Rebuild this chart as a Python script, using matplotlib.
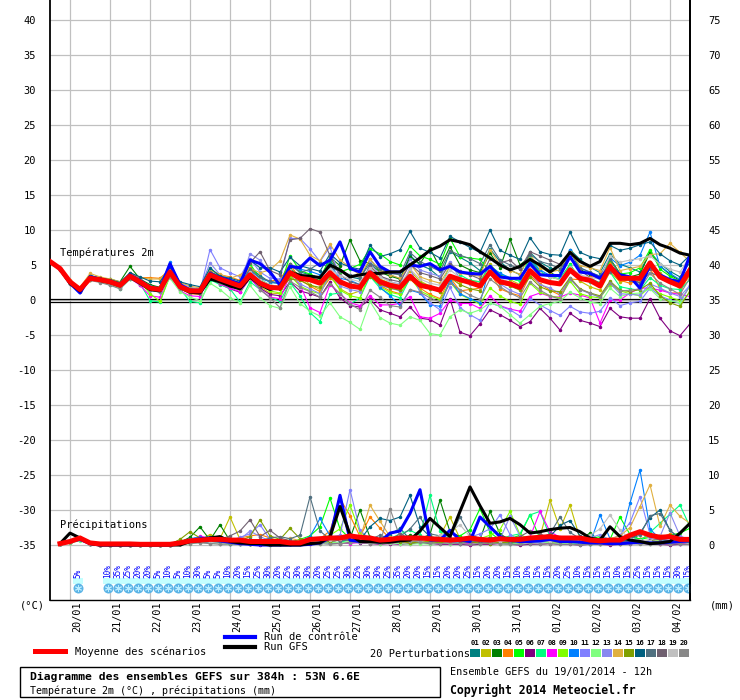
import numpy as np
import matplotlib.pyplot as plt
from matplotlib.patches import Rectangle

plt.rcParams['font.family'] = ['DejaVu Sans Mono']
plt.rcParams['axes.unicode_minus'] = False

# 6-hourly steps from 19/01 12h to 04/02 12h
steps = np.arange(65)
dates = ["20/01", "21/01", "22/01", "23/01", "24/01", "25/01", "26/01", "27/01",
         "28/01", "29/01", "30/01", "31/01", "01/02", "02/02", "03/02", "04/02"]

# temperature 2m (C)
mean_t = [5.5,
          4.5, 2.6, 1.5, 3.1, 2.9, 2.6, 2.1, 3.4, 2.6, 1.7, 1.5, 4.0, 1.9, 1.3, 1.3, 3.6,
          3.0, 2.5, 2.0, 3.6, 2.4, 1.8, 1.7, 3.9, 3.1, 2.9, 2.4, 3.9, 2.6, 2.0, 1.8, 3.9,
          2.6, 2.1, 1.8, 3.4, 2.1, 1.8, 1.4, 3.4, 2.9, 2.5, 2.0, 4.0, 2.6, 2.3, 1.8, 4.2,
          2.9, 2.5, 2.3, 4.3, 3.1, 2.8, 2.0, 4.8, 3.1, 3.1, 3.1, 5.3, 3.3, 2.6, 2.0, 4.3]
ctrl_t = [5.5,
          4.5, 2.4, 1.0, 3.3, 3.0, 2.6, 2.2, 3.6, 2.8, 1.8, 1.6, 5.2, 2.2, 1.4, 1.2, 3.8,
          3.2, 2.8, 2.3, 5.7, 5.2, 4.0, 2.1, 4.8, 4.6, 6.0, 4.9, 5.7, 8.3, 4.5, 4.0, 6.9,
          4.8, 4.0, 4.0, 5.0, 4.8, 5.2, 4.3, 4.8, 4.0, 3.8, 3.7, 4.8, 3.3, 3.1, 3.1, 5.2,
          3.6, 3.5, 3.5, 6.2, 4.0, 3.8, 3.1, 4.8, 3.6, 3.3, 1.7, 5.0, 3.6, 2.9, 2.6, 6.4]
gfs_t = [5.5,
         4.4, 2.4, 1.3, 3.2, 2.8, 2.5, 2.0, 3.3, 2.4, 1.5, 1.3, 4.0, 1.8, 1.1, 1.0, 3.0,
         2.6, 2.0, 1.6, 3.3, 2.2, 1.5, 1.9, 4.0, 3.5, 3.4, 3.2, 5.0, 4.3, 3.3, 3.6, 3.8,
         3.8, 4.0, 4.0, 5.0, 6.0, 7.1, 7.7, 8.6, 8.3, 7.9, 6.9, 6.0, 5.0, 4.3, 4.8, 5.8,
         5.0, 4.0, 5.0, 6.8, 5.5, 4.8, 5.5, 8.1, 8.1, 7.9, 8.1, 8.8, 7.9, 7.4, 6.7, 6.4]

t01 = [5.5, 4.4, 2.3, 1.4, 3.4, 2.8, 2.4, 2.0, 3.1, 2.5, 1.4, 1.2, 4.3, 2.0, 1.5, 1.6, 4.1,
       3.3, 2.8, 2.0, 4.6, 3.5, 2.5, 2.4, 5.2, 4.0, 3.6, 3.1, 5.5, 4.3, 3.3, 3.0, 5.8,
       4.1, 3.6, 3.0, 6.4, 5.0, 4.4, 3.2, 6.9, 6.1, 5.3, 4.2, 7.3, 5.5, 4.3, 3.6, 6.8,
       5.4, 4.6, 4.1, 7.2, 5.8, 4.7, 3.9, 6.6, 5.1, 4.6, 4.0, 6.9, 5.2, 4.1, 3.3, 5.4]
t02 = [5.5, 4.6, 2.7, 1.7, 3.0, 3.0, 2.8, 2.3, 3.3, 2.7, 2.0, 1.8, 3.6, 1.7, 1.0, 1.0, 3.0,
       2.5, 2.0, 1.4, 3.1, 1.9, 1.0, 0.9, 4.4, 3.4, 2.2, 1.5, 3.4, 1.6, 0.8, 1.3, 5.0,
       3.0, 2.4, 2.1, 4.2, 2.7, 2.0, 1.2, 3.2, 2.5, 2.8, 2.6, 5.1, 3.6, 2.9, 2.2, 5.9,
       4.0, 3.3, 2.9, 4.6, 2.7, 1.9, 1.4, 4.0, 2.6, 2.9, 3.4, 5.5, 3.8, 2.7, 1.6, 3.5]
t03 = [5.5, 4.5, 2.5, 1.3, 3.3, 3.1, 3.0, 2.6, 4.8, 3.0, 2.2, 1.8, 4.5, 2.2, 1.6, 1.4, 3.2,
       3.0, 2.3, 1.9, 3.9, 2.8, 2.0, 1.6, 4.4, 3.6, 3.2, 2.8, 6.1, 4.9, 8.6, 5.6, 5.2,
       4.0, 3.4, 3.0, 6.1, 5.2, 7.4, 4.6, 7.6, 5.0, 4.3, 3.9, 6.7, 4.6, 8.7, 5.0, 6.2,
       4.8, 3.9, 3.3, 7.0, 4.4, 3.6, 3.1, 5.9, 3.8, 3.3, 3.7, 6.8, 4.9, 3.6, 2.8, 4.6]
t04 = [5.5, 4.5, 2.6, 1.6, 2.9, 2.7, 2.5, 2.1, 3.9, 3.2, 3.2, 3.1, 4.4, 1.6, 0.9, 0.8, 3.7,
       3.6, 3.3, 2.8, 4.6, 3.1, 2.7, 2.9, 5.2, 2.9, 2.0, 1.2, 3.1, 2.3, 1.9, 1.7, 3.5,
       2.1, 1.3, 0.9, 3.0, 1.7, 0.8, 0.2, 3.2, 1.3, 1.5, 1.7, 3.9, 1.6, 1.0, 0.6, 3.5,
       2.3, 1.4, 0.7, 3.0, 2.9, 3.3, 3.3, 5.3, 2.8, 2.4, 2.8, 4.6, 1.6, 1.0, 1.0, 4.0]
t05 = [5.5, 4.4, 2.5, 1.5, 3.4, 3.2, 2.8, 2.3, 3.0, 2.4, 1.5, 1.2, 3.7, 2.3, 1.6, 1.2, 4.5,
       3.4, 2.9, 2.5, 5.2, 3.0, 2.1, 1.9, 6.3, 4.2, 3.7, 3.1, 6.0, 4.0, 4.5, 5.1, 7.3,
       6.6, 5.5, 5.0, 7.7, 6.3, 5.8, 5.1, 8.8, 6.2, 6.0, 5.8, 4.0, 3.5, 3.1, 2.7, 5.5,
       3.9, 3.3, 3.0, 5.1, 3.0, 2.8, 2.5, 5.7, 3.7, 3.9, 4.6, 7.2, 4.4, 3.4, 2.6, 4.0]
t06 = [5.5, 4.3, 2.4, 1.3, 3.2, 2.7, 2.3, 1.9, 3.5, 2.2, 1.4, 1.2, 4.1, 1.6, 1.1, 1.0, 3.1,
       2.3, 1.6, 1.1, 3.1, 1.7, 0.8, 0.6, 2.6, 1.3, 0.9, 0.4, 2.6, 0.3, -0.8, -1.0, 0.1,
       -1.4, -1.9, -2.4, -1.0, -2.6, -2.8, -3.6, 0.2, -4.6, -5.1, -3.4, -1.4, -2.1, -2.9, -3.8, -3.1,
       -1.2, -2.6, -4.3, -1.9, -2.9, -3.3, -3.8, -1.2, -2.4, -2.6, -2.6, 0.2, -2.6, -4.4, -5.1, -3.4]
t07 = [5.5, 4.5, 2.5, 1.4, 3.0, 2.6, 2.3, 1.6, 3.0, 2.4, -0.1, -0.3, 3.6, 1.6, -0.2, -0.4, 2.9,
       2.2, 1.6, -0.3, 2.6, 1.5, 0.4, -0.2, 2.5, 0.6, -1.8, -3.1, 0.8, 1.0, -0.6, 0.3, 3.4,
       1.7, 0.8, 0.3, 3.1, 2.5, 1.9, 1.4, 5.1, 3.6, 2.8, 2.6, 4.9, 3.8, 3.1, 2.7, 6.3,
       4.1, 3.3, 3.0, 5.0, 3.0, 2.6, 2.5, 4.0, 1.9, 1.6, 1.4, 3.2, 2.1, 1.6, 1.5, 2.9]
t08 = [5.5, 4.4, 2.6, 1.5, 3.2, 2.7, 2.2, 1.7, 3.1, 2.1, 0.6, 0.4, 3.7, 1.3, 0.6, 0.5, 3.4,
       2.3, 1.7, 1.2, 3.2, 1.5, 0.4, 0.2, 3.5, 2.2, -1.1, -1.8, 2.2, 0.9, -0.4, -0.8, 0.6,
       -0.7, -0.7, -0.5, 0.5, -2.4, -2.6, -1.9, 0.0, -0.5, -0.5, -1.2, 0.6, -0.8, -1.3, -1.6, 0.5,
       1.0, 0.5, 0.4, 1.0, 0.7, 0.3, -3.3, 0.0, 0.0, 1.0, 1.7, 1.7, 1.4, 1.0, 0.8, 0.5]
t09 = [5.5, 4.5, 2.5, 1.6, 3.3, 2.9, 2.6, 2.1, 3.6, 2.6, 0.9, -0.2, 3.4, 2.1, 1.4, 1.1, 3.3,
       2.7, 2.1, 1.6, 3.8, 2.2, 1.3, 1.0, 3.5, 2.0, 1.3, 0.9, 3.6, 1.4, 0.6, 0.3, 4.0,
       1.9, 1.1, 0.8, 3.3, 1.3, 0.6, 0.0, 2.6, 0.8, 0.1, -0.6, 1.7, 0.6, -0.2, -0.6, 2.4,
       1.1, 0.6, 0.3, 2.7, 0.9, 0.5, 0.3, 2.2, 1.3, 0.9, 0.6, 1.9, 0.9, 0.4, -0.1, 1.9]
t10 = [5.5, 4.6, 2.7, 1.7, 3.6, 3.0, 2.7, 2.3, 3.4, 2.8, 2.0, 1.7, 5.4, 2.3, 1.6, 1.4, 3.3,
       2.8, 2.4, 2.2, 4.2, 3.1, 2.6, 2.3, 5.0, 4.4, 4.1, 3.6, 5.0, 3.1, 2.8, 2.2, 4.7,
       1.8, 0.6, -0.8, 1.4, 1.0, -0.7, -0.9, 2.9, 0.9, 0.2, -0.4, 4.8, 3.8, 3.2, 3.1, 5.6,
       4.3, 3.5, 3.3, 7.1, 4.6, 3.9, 3.4, 6.0, 4.9, 5.4, 6.4, 9.7, 4.8, 3.8, 2.9, 6.1]
t11 = [5.5, 4.5, 2.6, 1.5, 3.3, 2.8, 2.4, 2.0, 3.6, 2.6, 1.9, 1.6, 4.0, 2.0, 1.4, 1.2, 7.2,
       4.6, 3.9, 3.3, 5.9, 4.0, 3.1, 3.0, 8.8, 8.8, 7.3, 5.5, 7.6, 2.9, 2.0, 1.5, 4.6,
       2.1, 1.7, 1.3, 4.6, 1.1, -0.4, -1.4, 1.8, -1.1, -2.1, -2.9, -0.4, -0.9, -1.4, -2.3, 0.2,
       -0.7, -1.5, -2.2, -0.9, -1.7, -1.9, -1.6, 0.3, -0.8, -0.4, -0.2, 1.7, 0.6, 0.0, -0.5, 2.2]
t12 = [5.5, 4.4, 2.5, 1.4, 3.0, 2.6, 2.2, 1.7, 3.2, 2.3, 1.4, 1.1, 3.1, 1.2, 0.4, -0.1, 2.4,
       1.5, 0.3, -0.4, 2.1, 0.3, -0.8, -1.2, 1.9, -0.5, -1.6, -2.3, -0.4, -2.4, -3.2, -4.2, -0.2,
       -2.5, -3.3, -3.6, -2.4, -2.9, -4.8, -5.0, -2.4, -1.4, -1.9, -1.4, -0.4, -0.9, -2.1, -3.3, -2.1,
       -0.9, -0.5, -0.2, 1.1, 0.3, -0.3, -0.5, 1.7, 0.5, 0.9, 1.0, 1.6, 0.2, -0.1, -0.4, 1.0]
t13 = [5.5, 4.5, 2.6, 1.6, 3.4, 3.0, 2.7, 2.2, 3.5, 2.4, 1.4, 1.1, 4.8, 2.4, 1.8, 1.6, 5.3,
       3.6, 2.9, 2.3, 6.6, 5.7, 3.7, 2.4, 4.0, 2.3, 1.6, 0.9, 3.7, 2.0, 1.5, 1.2, 5.3,
       3.5, 2.6, 2.3, 5.8, 4.3, 3.8, 3.4, 5.5, 3.0, 2.3, 1.8, 4.4, 2.3, 1.4, 0.8, 4.0,
       2.2, 1.7, 0.9, 3.0, 1.5, 0.9, 0.4, 2.4, 0.9, 0.8, 0.7, 2.3, 1.7, 1.0, 0.5, 2.1]
t14 = [5.5, 4.6, 2.8, 1.8, 3.8, 3.3, 3.0, 2.6, 3.6, 3.2, 3.0, 3.0, 4.5, 2.5, 2.0, 1.7, 4.2,
       3.7, 3.1, 3.6, 4.5, 3.9, 4.3, 5.6, 9.3, 8.7, 6.4, 5.6, 8.0, 5.7, 4.7, 3.5, 5.8,
       4.3, 3.6, 3.1, 5.2, 3.3, 2.8, 2.4, 4.8, 3.8, 3.6, 3.4, 7.2, 5.0, 4.2, 3.7, 6.4,
       4.6, 4.0, 4.3, 6.8, 4.9, 4.6, 4.2, 7.5, 4.2, 4.5, 4.8, 6.5, 6.6, 8.1, 6.8, 5.5]
t15 = [5.5, 4.4, 2.4, 1.3, 2.9, 2.6, 2.4, 2.0, 3.4, 2.5, 1.8, 1.5, 3.5, 1.8, 1.3, 1.1, 3.2,
       2.6, 2.2, 1.8, 3.2, 2.4, 1.9, 1.7, 3.0, 2.8, 2.1, 1.8, 3.5, 2.6, 2.0, 1.6, 3.3,
       2.3, 1.7, 1.4, 3.5, 2.4, 1.6, 1.2, 3.2, 2.2, 1.6, 1.3, 4.0, 2.4, 2.0, 1.4, 3.3,
       1.9, 1.3, 1.2, 3.2, 1.6, 1.0, 0.6, 2.7, 1.4, 1.2, 1.5, 2.4, 0.6, -0.4, -0.9, 1.3]
t16 = [5.5, 4.5, 2.6, 1.6, 3.5, 3.1, 2.9, 2.5, 3.9, 3.3, 2.7, 2.6, 4.7, 2.6, 2.2, 1.9, 4.6,
       3.4, 3.1, 2.7, 5.7, 4.6, 4.6, 4.0, 6.1, 4.9, 4.5, 4.1, 6.6, 5.3, 4.7, 4.4, 7.8,
       6.2, 6.6, 7.2, 9.8, 7.4, 6.8, 6.0, 9.1, 8.3, 7.5, 6.8, 10.0, 7.1, 6.4, 5.8, 8.9,
       6.9, 6.5, 6.4, 9.7, 6.8, 6.2, 5.9, 7.8, 7.1, 7.4, 7.9, 8.3, 6.6, 5.6, 5.0, 6.4]
t17 = [5.5, 4.4, 2.5, 1.5, 3.1, 2.8, 2.5, 2.1, 3.4, 2.5, 1.9, 1.6, 3.8, 2.1, 1.6, 1.4, 3.5,
       2.9, 2.5, 2.1, 4.4, 3.2, 2.7, 2.4, 5.1, 3.9, 4.4, 5.3, 4.6, 4.1, 3.6, 3.2, 5.2,
       4.5, 3.8, 3.6, 6.8, 5.5, 4.8, 4.1, 7.0, 6.4, 5.9, 5.2, 7.9, 5.7, 5.0, 4.4, 6.5,
       5.5, 5.1, 4.5, 6.0, 4.6, 4.0, 3.4, 5.8, 3.6, 2.9, 2.5, 3.9, 3.4, 2.9, 2.6, 4.6]
t18 = [5.5, 4.4, 2.5, 1.6, 3.2, 2.7, 2.4, 2.1, 3.3, 2.5, 1.8, 1.6, 3.7, 2.0, 1.5, 1.4, 4.0,
       3.2, 2.8, 2.5, 5.3, 6.9, 4.2, 3.6, 8.6, 8.8, 10.2, 9.7, 6.3, 3.6, 2.6, 2.2, 4.8,
       3.4, 2.9, 2.6, 5.1, 3.9, 3.5, 3.0, 5.2, 4.1, 3.6, 3.0, 5.9, 5.3, 5.7, 4.4, 6.9,
       6.3, 5.7, 5.1, 6.1, 4.3, 3.2, 2.4, 4.0, 3.6, 3.0, 2.4, 4.5, 3.6, 2.8, 2.2, 3.7]
t19 = [5.5, 4.5, 2.6, 1.6, 3.3, 2.8, 2.5, 2.0, 3.5, 2.6, 1.8, 1.5, 3.9, 2.0, 1.5, 1.3, 3.6,
       3.1, 2.6, 2.1, 4.0, 2.9, 2.2, 1.9, 4.3, 3.4, 3.0, 2.5, 4.4, 3.5, 3.0, 2.6, 4.6,
       3.3, 2.6, 2.2, 4.4, 3.0, 2.4, 2.1, 4.3, 3.2, 2.5, 1.9, 4.6, 3.1, 2.5, 2.0, 4.9,
       3.8, 3.3, 2.9, 4.7, 3.6, 3.2, 3.0, 6.3, 5.4, 5.7, 5.9, 6.3, 5.1, 4.4, 4.0, 6.2]
t20 = [5.5, 4.3, 2.3, 1.2, 2.8, 2.5, 2.1, 1.6, 3.0, 2.3, 1.5, 1.1, 3.3, 1.6, 1.0, 0.9, 3.3,
       2.4, 2.0, 1.6, 3.7, 1.5, 0.3, -1.1, 2.7, 1.8, 1.2, 0.4, 2.3, 0.9, -0.6, -1.4, 1.4,
       0.4, -0.8, -1.0, 1.5, 1.1, 0.3, -0.3, 2.4, 1.5, 0.7, 0.1, 3.0, 1.9, 1.0, 0.3, 2.6,
       1.4, 0.6, 0.1, 3.1, 1.5, 1.0, 0.4, 2.5, 1.3, 1.4, 1.6, 3.8, 2.4, 1.6, 0.8, 3.2]

# precipitation (mm / 6h), from step 1 to 64
mean_r = [0.2, 0.5, 1.0, 0.3, 0.15, 0.15, 0.15, 0.15, 0.1, 0.1, 0.1, 0.1, 0.3, 0.6, 0.7, 0.8,
          0.8, 0.7, 0.7, 0.5, 0.5, 0.5, 0.5, 0.3, 0.3, 0.8, 0.9, 1.0, 1.0, 1.3, 1.1, 1.0,
          0.7, 0.8, 1.0, 1.0, 1.0, 0.9, 0.8, 0.7, 0.8, 1.0, 0.8, 0.7, 0.9, 0.8, 0.8, 1.0,
          1.1, 1.2, 1.0, 1.0, 1.0, 0.7, 0.6, 0.7, 0.7, 1.4, 1.9, 1.4, 1.1, 1.2, 0.8, 0.8]
ctrl_r = [0.2, 0.5, 0.8, 0.2, 0.0, 0.0, 0.0, 0.0, 0.0, 0.0, 0.0, 0.0, 0.2, 0.5, 0.9, 1.0,
          0.6, 0.4, 0.2, 0.1, 0.0, 0.0, 0.0, 0.0, 0.0, 0.1, 0.3, 1.0, 7.1, 0.7, 0.5, 0.6,
          0.4, 1.7, 2.0, 4.5, 7.9, 0.7, 0.7, 2.1, 0.7, 0.5, 4.0, 2.6, 1.2, 0.7, 0.5, 0.5,
          0.6, 0.8, 0.5, 0.5, 0.4, 0.3, 0.3, 0.2, 0.2, 0.3, 0.4, 0.3, 0.3, 0.4, 0.5, 0.6]
gfs_r = [0.2, 1.7, 1.0, 0.2, 0.0, 0.0, 0.0, 0.0, 0.0, 0.0, 0.0, 0.0, 0.0, 0.5, 0.6, 1.0,
         1.2, 0.5, 0.3, 0.2, 0.2, 0.0, 0.0, 0.0, 0.0, 0.2, 0.3, 1.2, 5.5, 1.5, 0.5, 0.5,
         0.4, 0.4, 0.6, 0.7, 2.0, 3.8, 2.5, 1.2, 4.8, 8.3, 5.6, 3.1, 3.3, 3.8, 2.9, 1.7,
         1.9, 2.2, 2.4, 2.5, 1.9, 1.0, 0.7, 2.6, 1.2, 0.7, 0.5, 0.2, 0.3, 0.5, 1.7, 3.1]

r01 = [0.2, 0.4, 0.8, 0.2, 0.0, 0.0, 0.0, 0.0, 0.0, 0.0, 0.0, 0.0, 0.3, 0.8, 1.2, 0.6,
       0.5, 0.3, 0.2, 0.1, 0.2, 0.6, 0.3, 0.1, 0.1, 0.3, 0.5, 0.4, 0.8, 1.2, 0.6, 0.5,
       1.0, 1.5, 2.4, 0.8, 0.6, 0.4, 0.9, 0.3, 0.2, 0.5, 0.4, 1.1, 0.7, 0.3, 0.2, 0.5,
       0.4, 0.6, 0.8, 0.3, 0.2, 0.1, 0.3, 0.9, 0.6, 1.2, 0.8, 0.4, 0.3, 0.5, 0.2, 0.4]
r02 = [0.1, 0.3, 0.9, 0.3, 0.0, 0.0, 0.0, 0.0, 0.0, 0.0, 0.0, 0.1, 0.5, 0.4, 0.7, 1.5,
       0.9, 4.0, 0.8, 0.5, 0.3, 0.2, 0.2, 0.4, 0.5, 0.3, 0.2, 0.8, 0.6, 0.9, 0.4, 1.2,
       0.8, 0.6, 0.3, 0.5, 0.4, 0.6, 1.3, 4.0, 0.9, 0.5, 0.7, 0.4, 0.3, 0.4, 0.6, 0.8,
       1.2, 6.4, 2.3, 5.7, 0.9, 0.4, 0.3, 0.2, 0.6, 0.3, 0.5, 0.3, 0.2, 0.4, 0.9, 0.3]
r03 = [0.2, 0.5, 1.0, 0.3, 0.0, 0.0, 0.0, 0.0, 0.0, 0.0, 0.0, 0.0, 0.4, 1.1, 2.6, 0.7,
       2.9, 0.6, 0.4, 0.2, 0.1, 0.2, 0.1, 0.2, 0.3, 0.6, 0.8, 0.9, 1.3, 0.9, 5.0, 1.1,
       0.6, 0.4, 0.8, 1.4, 0.9, 1.5, 6.4, 1.9, 1.2, 0.5, 0.8, 4.8, 1.6, 0.7, 0.4, 0.6,
       0.5, 0.8, 0.6, 0.4, 0.8, 1.7, 0.6, 0.3, 0.2, 0.4, 0.3, 0.6, 0.4, 0.3, 0.5, 0.6]
r04 = [0.2, 0.6, 1.1, 0.2, 0.0, 0.0, 0.0, 0.0, 0.0, 0.0, 0.0, 0.0, 0.2, 0.3, 0.5, 0.4,
       0.3, 0.6, 1.0, 1.3, 1.5, 1.0, 0.6, 0.4, 0.3, 0.4, 0.9, 2.0, 6.6, 4.2, 1.2, 4.0,
       2.4, 0.9, 0.5, 0.7, 0.8, 0.5, 0.6, 0.7, 0.4, 0.3, 0.6, 0.5, 0.4, 0.9, 1.1, 0.6,
       0.5, 0.8, 0.6, 0.8, 0.3, 0.4, 0.2, 0.5, 0.3, 0.4, 0.9, 1.3, 1.0, 1.6, 0.7, 0.5]
r05 = [0.2, 0.4, 0.8, 0.3, 0.0, 0.0, 0.0, 0.0, 0.0, 0.0, 0.0, 0.0, 0.1, 0.4, 0.6, 0.9,
       0.5, 0.3, 0.4, 0.2, 0.1, 0.2, 0.3, 0.4, 0.8, 1.3, 2.6, 6.7, 2.3, 0.9, 0.6, 0.8,
       0.4, 0.6, 0.9, 0.7, 0.5, 1.1, 0.8, 0.6, 1.3, 2.2, 5.2, 1.8, 0.7, 0.9, 1.4, 4.3,
       0.9, 0.5, 0.6, 0.3, 0.5, 0.9, 1.2, 0.8, 4.0, 1.5, 0.8, 1.1, 0.9, 1.4, 1.7, 2.4]
r06 = [0.1, 0.4, 0.9, 0.2, 0.0, 0.0, 0.0, 0.0, 0.0, 0.0, 0.0, 0.0, 0.2, 0.4, 0.5, 0.3,
       0.2, 0.1, 0.2, 0.1, 0.0, 0.1, 0.1, 0.2, 0.3, 0.2, 0.4, 0.3, 0.2, 0.4, 0.3, 0.2,
       0.1, 0.2, 0.1, 0.2, 0.3, 0.2, 0.1, 0.1, 0.1, 0.0, 0.1, 0.1, 0.2, 0.1, 0.0, 0.1,
       0.1, 0.2, 0.1, 0.1, 0.0, 0.1, 0.1, 0.0, 0.1, 0.2, 0.3, 0.1, 0.1, 0.0, 0.1, 0.1]
r07 = [0.2, 0.5, 0.9, 0.3, 0.0, 0.0, 0.0, 0.0, 0.0, 0.0, 0.0, 0.0, 0.1, 0.3, 0.5, 0.4,
       0.3, 0.2, 0.3, 0.2, 0.1, 0.0, 0.1, 0.1, 0.2, 0.6, 0.4, 0.3, 0.4, 0.7, 0.9, 0.6,
       0.5, 0.9, 1.6, 2.1, 1.4, 7.1, 2.0, 1.0, 0.6, 0.4, 0.8, 0.5, 0.9, 1.3, 1.6, 4.3,
       4.8, 1.2, 0.6, 0.5, 0.4, 0.3, 0.2, 0.5, 0.9, 1.4, 0.6, 1.8, 3.1, 4.4, 5.7, 2.6]
r08 = [0.2, 0.4, 0.7, 0.1, 0.0, 0.0, 0.0, 0.0, 0.0, 0.0, 0.0, 0.0, 0.2, 0.6, 1.3, 0.9,
       0.6, 0.3, 0.2, 0.1, 0.1, 0.1, 0.2, 0.1, 0.2, 0.4, 0.3, 0.5, 0.3, 0.2, 0.4, 0.6,
       0.5, 0.3, 0.2, 0.4, 0.3, 0.5, 0.4, 0.2, 0.3, 0.2, 0.4, 0.3, 0.5, 0.6, 0.8, 1.1,
       4.8, 1.9, 1.1, 0.6, 0.4, 0.3, 0.2, 0.3, 0.5, 0.4, 0.3, 0.4, 0.2, 0.3, 0.2, 0.4]
r09 = [0.2, 0.5, 1.0, 0.2, 0.0, 0.0, 0.0, 0.0, 0.0, 0.0, 0.0, 0.0, 0.3, 0.5, 0.8, 1.2,
       0.4, 0.3, 0.5, 0.2, 0.1, 0.1, 0.2, 0.3, 0.4, 0.6, 0.9, 1.4, 2.3, 5.7, 1.8, 0.9,
       0.6, 0.5, 0.8, 0.4, 0.3, 0.5, 0.4, 0.8, 0.6, 1.2, 0.9, 1.4, 2.2, 4.8, 1.5, 0.8,
       0.6, 0.4, 0.5, 0.3, 0.3, 0.6, 0.9, 0.7, 0.5, 0.4, 0.3, 0.5, 0.6, 0.4, 0.3, 0.5]
r10 = [0.2, 0.4, 0.8, 0.2, 0.0, 0.0, 0.0, 0.0, 0.0, 0.0, 0.0, 0.1, 0.4, 0.9, 1.1, 0.8,
       0.5, 0.3, 0.2, 0.4, 0.2, 0.1, 0.3, 0.2, 0.5, 1.2, 3.8, 1.3, 0.6, 0.9, 0.5, 0.4,
       0.7, 0.5, 0.4, 0.6, 0.3, 0.4, 0.5, 0.4, 0.3, 0.5, 0.7, 0.6, 0.4, 0.2, 0.3, 0.5,
       0.4, 0.6, 0.5, 0.4, 0.3, 0.2, 4.3, 0.9, 0.5, 6.0, 10.7, 2.3, 0.8, 0.5, 0.6, 0.4]
r11 = [0.2, 0.5, 0.9, 0.3, 0.0, 0.0, 0.0, 0.0, 0.0, 0.0, 0.0, 0.0, 0.3, 0.6, 0.8, 0.5,
       0.4, 0.6, 1.1, 1.6, 2.9, 0.8, 0.4, 0.3, 0.4, 0.5, 0.7, 1.1, 1.4, 7.9, 2.1, 0.8,
       0.5, 0.4, 0.7, 0.9, 0.8, 0.6, 0.4, 0.5, 0.7, 1.1, 1.6, 2.3, 4.3, 1.5, 0.6, 0.4,
       0.3, 0.5, 0.4, 0.6, 0.5, 0.4, 0.6, 0.8, 1.4, 3.2, 6.9, 1.5, 0.7, 0.9, 1.2, 0.6]
r12 = [0.1, 0.3, 0.6, 0.2, 0.0, 0.0, 0.0, 0.0, 0.0, 0.0, 0.0, 0.0, 0.1, 0.2, 0.4, 0.3,
       0.2, 0.1, 0.2, 0.1, 0.1, 0.2, 0.1, 0.1, 0.1, 0.3, 0.2, 0.4, 0.3, 0.5, 0.4, 0.3,
       0.2, 0.3, 0.2, 0.1, 0.2, 0.1, 0.3, 0.2, 0.3, 0.4, 0.2, 0.3, 0.2, 0.1, 0.3, 0.4,
       0.5, 0.3, 0.2, 0.3, 0.2, 0.1, 0.2, 0.3, 0.4, 0.6, 0.3, 0.2, 0.3, 0.2, 0.4, 0.3]
r13 = [0.2, 0.4, 0.8, 0.2, 0.0, 0.0, 0.0, 0.0, 0.0, 0.0, 0.0, 0.0, 0.3, 0.5, 0.7, 0.5,
       0.4, 0.6, 0.8, 2.0, 1.2, 0.6, 0.3, 0.2, 0.3, 0.5, 0.6, 0.4, 0.8, 1.0, 1.3, 0.7,
       0.5, 0.6, 0.4, 0.8, 1.1, 0.7, 0.5, 0.4, 0.5, 0.7, 0.9, 0.6, 0.8, 4.1, 1.3, 0.6,
       0.5, 0.7, 0.8, 0.5, 0.6, 1.0, 1.5, 0.7, 0.6, 1.1, 2.0, 0.9, 1.2, 4.6, 1.3, 0.7]
r14 = [0.2, 0.5, 1.0, 0.3, 0.0, 0.0, 0.0, 0.0, 0.0, 0.0, 0.0, 0.0, 0.2, 0.4, 0.8, 1.0,
       0.7, 0.4, 0.5, 0.6, 0.4, 0.3, 0.5, 1.0, 0.6, 0.8, 0.7, 1.2, 0.8, 0.6, 0.9, 5.7,
       3.4, 1.2, 0.7, 0.5, 0.6, 0.5, 0.4, 0.8, 1.0, 0.7, 0.5, 0.6, 0.4, 0.5, 0.6, 0.4,
       0.8, 1.0, 0.7, 0.5, 0.4, 0.6, 0.5, 0.9, 1.3, 2.5, 5.5, 8.6, 2.7, 5.7, 4.1, 3.1]
r15 = [0.2, 0.5, 0.9, 0.2, 0.0, 0.0, 0.0, 0.0, 0.0, 0.0, 0.0, 0.1, 0.8, 1.9, 1.0, 0.6,
       0.4, 0.3, 0.6, 1.2, 3.6, 1.3, 0.8, 2.4, 0.9, 0.6, 0.4, 0.5, 0.7, 0.8, 0.6, 0.5,
       0.4, 0.6, 0.5, 0.3, 0.4, 0.5, 0.3, 0.6, 0.5, 0.4, 0.3, 0.2, 0.4, 0.3, 0.5, 0.6,
       0.7, 0.5, 0.4, 0.6, 0.3, 0.2, 0.4, 0.3, 0.4, 0.5, 0.3, 0.6, 0.4, 0.3, 0.5, 0.4]
r16 = [0.2, 0.4, 0.9, 0.2, 0.0, 0.0, 0.0, 0.0, 0.0, 0.0, 0.0, 0.0, 0.2, 0.6, 0.5, 0.3,
       0.4, 0.2, 0.3, 0.2, 0.1, 0.3, 0.2, 0.4, 0.5, 0.7, 0.9, 1.2, 0.9, 1.6, 0.7, 2.6,
       3.8, 3.5, 4.0, 7.1, 2.6, 1.2, 0.9, 0.7, 0.6, 0.8, 0.5, 0.4, 0.7, 0.5, 0.6, 0.8,
       0.9, 1.2, 2.8, 3.5, 1.3, 0.6, 0.4, 0.3, 0.5, 0.8, 1.7, 3.9, 5.0, 2.1, 0.8, 0.6]
r17 = [0.2, 0.4, 0.8, 0.3, 0.0, 0.0, 0.0, 0.0, 0.0, 0.0, 0.0, 0.0, 0.2, 0.4, 0.6, 0.5,
       0.3, 0.4, 0.5, 0.8, 0.6, 1.0, 1.2, 0.9, 1.4, 6.9, 2.0, 0.8, 0.6, 0.7, 0.9, 0.8,
       1.4, 0.9, 1.2, 2.3, 4.0, 1.6, 1.3, 1.0, 4.0, 1.5, 0.9, 0.7, 0.6, 0.5, 0.8, 0.9,
       1.0, 1.6, 4.0, 1.8, 0.9, 0.6, 0.5, 0.4, 0.6, 0.9, 1.4, 4.2, 4.5, 2.1, 0.9, 0.6]
r18 = [0.2, 0.4, 0.8, 0.2, 0.0, 0.0, 0.0, 0.0, 0.0, 0.0, 0.0, 0.0, 0.2, 0.5, 0.9, 1.1,
       0.8, 1.3, 2.0, 3.6, 1.2, 2.1, 1.0, 0.6, 0.5, 0.9, 0.8, 1.0, 0.7, 0.8, 0.6, 0.5,
       0.4, 0.7, 1.6, 0.9, 0.6, 0.8, 1.2, 0.7, 0.5, 0.4, 0.6, 0.8, 0.7, 0.9, 1.2, 2.0,
       1.6, 0.9, 0.6, 0.5, 0.4, 0.6, 0.8, 0.5, 0.4, 0.5, 0.6, 0.7, 0.8, 0.6, 0.5, 0.4]
r19 = [0.2, 0.5, 0.9, 0.2, 0.0, 0.0, 0.0, 0.0, 0.0, 0.0, 0.0, 0.0, 0.1, 0.3, 0.5, 0.4,
       0.2, 0.3, 0.4, 0.3, 0.2, 0.1, 0.3, 0.2, 0.3, 0.6, 0.5, 0.7, 0.8, 1.1, 0.9, 0.6,
       0.5, 0.4, 0.7, 0.6, 0.5, 0.8, 1.4, 1.9, 2.9, 1.2, 0.8, 0.6, 0.5, 0.7, 0.6, 0.9,
       0.7, 0.5, 0.8, 0.6, 0.5, 1.4, 2.3, 4.3, 2.1, 0.9, 0.7, 0.6, 1.5, 0.9, 0.6, 0.8]
r20 = [0.2, 0.4, 0.9, 0.3, 0.0, 0.0, 0.0, 0.0, 0.0, 0.0, 0.0, 0.0, 0.1, 0.2, 0.3, 0.2,
       0.1, 0.2, 0.1, 0.1, 0.1, 0.0, 0.1, 0.1, 0.2, 0.3, 0.2, 0.1, 0.2, 0.3, 0.4, 0.2,
       0.3, 5.2, 1.1, 0.6, 0.4, 0.3, 0.2, 0.3, 0.2, 0.1, 0.2, 0.3, 0.2, 0.1, 0.1, 0.2,
       0.1, 0.2, 0.1, 0.1, 0.0, 0.1, 0.2, 0.1, 0.1, 0.2, 0.1, 0.2, 0.1, 0.2, 0.1, 0.1]

pert_t = [t01, t02, t03, t04, t05, t06, t07, t08, t09, t10,
          t11, t12, t13, t14, t15, t16, t17, t18, t19, t20]
pert_r = [r01, r02, r03, r04, r05, r06, r07, r08, r09, r10,
          r11, r12, r13, r14, r15, r16, r17, r18, r19, r20]
pert_colors = ['#008080', '#c0c000', '#008000', '#ff8000', '#00ff00',
               '#800080', '#00ff80', '#ff00ff', '#80ff00', '#0080ff',
               '#8080ff', '#80ff80', '#8888f0', '#e0b040', '#80a000',
               '#006080', '#507080', '#706070', '#c0c0c0', '#888888']

# snow probability (%) per step 1..64, None = no snow
snow_pct = [None, None, 5, None, None,
            10, 35, 25, 20, 20, 5, 10, 5, 10, 30, 5, 5, 10, 20, 15, 25, 30, 20, 25, 30,
            30, 20, 25, 25, 30, 25, 30, 30, 25, 35, 20, 20, 15, 15, 20, 20, 25, 15, 20, 20,
            15, 10, 10, 15, 15, 20, 25, 10, 15, 15, 15, 10, 15, 25, 15, 15, 15, 30, 15]

W, H = 740, 700


def fx(x):
    return x / W


def fy(y):
    return 1 - y / H


fig = plt.figure(figsize=(W / 100, H / 100), dpi=100)
ax = fig.add_axes([fx(50), fy(600), 640 / W, 600 / H])
ax.set_xlim(0, 64)
ax.set_ylim(-300 / 7, 300 / 7)

# grid
for k in range(len(dates)):
    ax.axvline(2 + 4 * k, color='#c0c0c0', lw=0.9, zorder=0)
for v in range(-35, 45, 5):
    ax.axhline(v, color='#c0c0c0', lw=0.9, zorder=0)
ax.axhline(0.12, color='black', lw=0.9, zorder=1)
ax.axhline(-0.28, color='black', lw=0.9, zorder=1)

# ensemble members
for t, r, c in zip(pert_t, pert_r, pert_colors):
    ax.plot(steps, t, color=c, lw=0.8, marker='.', ms=3, zorder=2)
    ax.plot(steps[1:], np.array(r) - 35, color=c, lw=0.8, marker='.', ms=3, zorder=2)

ax.plot(steps, ctrl_t, color='#0000ff', lw=2.2, zorder=3)
ax.plot(steps[1:], np.array(ctrl_r) - 35, color='#0000ff', lw=2.2, zorder=3)
ax.plot(steps, gfs_t, color='black', lw=2.2, zorder=4)
ax.plot(steps[1:], np.array(gfs_r) - 35, color='black', lw=2.2, zorder=4)
ax.plot(steps, mean_t, color='#ff0000', lw=3.6, zorder=5)
ax.plot(steps[1:], np.array(mean_r) - 35, color='#ff0000', lw=3.6, zorder=5)

ax.text(1, 6.7, "Températures 2m", fontsize=7.5, va='center', zorder=6)
ax.text(1, -32.1, "Précipitations", fontsize=7.5, va='center', zorder=6)

# snow probability row
for s, p in zip(steps[1:], snow_pct):
    if p is None:
        continue
    xp = s - 0.2
    ax.add_patch(Rectangle((xp - 0.5, -300 / 7 + 16 / 7), 1.0, 6 / 7,
                           color='#c4ffff', lw=0, zorder=1))
    ax.text(xp, -300 / 7 + 22 / 7, f"{p}%", rotation=90, ha='center', va='bottom',
            fontsize=5.5, color='#0000ff', zorder=6)
    ax.plot(xp, -300 / 7 + 12 / 7, marker='o', ms=7.2, color='#5cb4e6', mew=0, zorder=6)
    ax.plot(xp, -300 / 7 + 12 / 7, marker=(6, 2, 0), ms=5, color='#b8ecff', mew=0.7, zorder=7)

# axes
ax.set_xticks([])
ax.set_yticks(range(-35, 45, 5))
ax.set_yticklabels([str(v) for v in range(-35, 45, 5)])
ax.tick_params(axis='y', length=0, pad=10, labelsize=7.5)
ax.spines['top'].set_visible(False)
ax.spines['left'].set_linewidth(1.3)
ax.spines['right'].set_linewidth(1.3)
ax.spines['bottom'].set_linewidth(1.0)

ax2 = ax.twinx()
ax2.set_ylim(-300 / 7 + 35, 300 / 7 + 35)
ax2.set_yticks(range(0, 80, 5))
ax2.set_yticklabels([str(v) for v in range(0, 80, 5)])
ax2.tick_params(axis='y', length=0, pad=13, labelsize=7.5)
for sp in ['top', 'left', 'bottom']:
    ax2.spines[sp].set_visible(False)
ax2.spines['right'].set_linewidth(1.3)

for k, d in enumerate(dates):
    ax.text(2 + 4 * k + 0.7, -0.002, d, transform=ax.get_xaxis_transform(),
            rotation=90, ha='center', va='top', fontsize=7.3)

fig.text(fx(20), fy(606), "(°C)", fontsize=7.5, va='center')
fig.text(fx(710), fy(606), "(mm)", fontsize=7.5, va='center')

# legend
fig.add_artist(plt.Line2D([fx(35), fx(65)], [fy(651), fy(651)], color='#ff0000', lw=3.6))
fig.text(fx(75), fy(652), "Moyenne des scénarios", fontsize=7.5, va='center')
fig.add_artist(plt.Line2D([fx(225), fx(255)], [fy(636.5), fy(636.5)], color='#0000ff', lw=3.0))
fig.text(fx(264), fy(637.5), "Run de contrôle", fontsize=7.5, va='center')
fig.add_artist(plt.Line2D([fx(225), fx(255)], [fy(646.5), fy(646.5)], color='black', lw=3.0))
fig.text(fx(264), fy(646.5), "Run GFS", fontsize=7.5, va='center')
fig.text(fx(370), fy(654), "20 Perturbations", fontsize=7.5, va='center')
for k, c in enumerate(pert_colors):
    x0 = 470 + 11 * k
    fig.add_artist(Rectangle((fx(x0), fy(657)), 10 / W, 8 / H, color=c, lw=0,
                             transform=fig.transFigure))
    fig.text(fx(x0 + 5), fy(643), f"{k + 1:02d}", fontsize=5.2, fontweight='bold',
             ha='center', va='center')

# title box
fig.add_artist(Rectangle((fx(20), fy(697)), 420 / W, 30 / H, fill=False,
                         edgecolor='black', lw=1.0, transform=fig.transFigure))
fig.text(fx(30), fy(677), "Diagramme des ensembles GEFS sur 384h : 53N 6.6E",
         fontsize=8.2, fontweight='bold', va='center')
fig.text(fx(30), fy(691), "Température 2m (°C) , précipitations (mm)",
         fontsize=7.2, va='center')
fig.text(fx(450), fy(672), "Ensemble GEFS du 19/01/2014 - 12h", fontsize=7.3, va='center')
fig.text(fx(450), fy(690), "Copyright 2014 Meteociel.fr", fontsize=8.3,
         fontweight='bold', va='center')

fig.savefig('out.png', dpi=100)
